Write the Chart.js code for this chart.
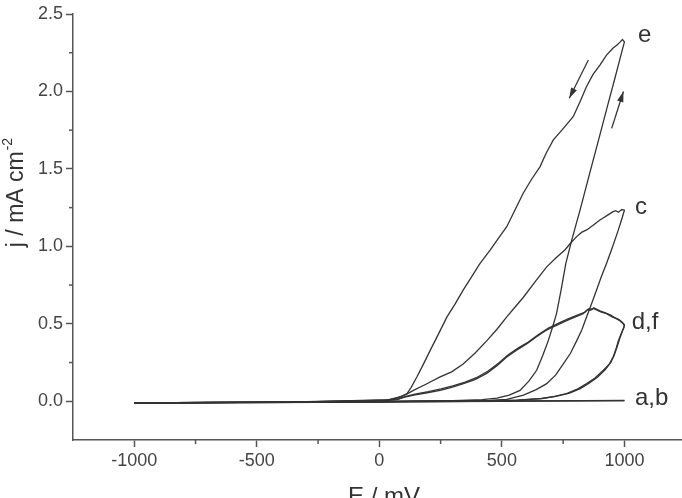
<!DOCTYPE html>
<html>
<head>
<meta charset="utf-8">
<script src="https://cdn.jsdelivr.net/npm/chart.js@4.4.0/dist/chart.umd.min.js"></script>
<style>
  html, body { margin: 0; padding: 0; background: #fff; }
</style>
</head>
<body>
<canvas id="grafico" width="682" height="498"></canvas>
<script>
// tick labels
const xTicks = [-1000, -500, 0, 500, 1000];
const yTicks = [0.0, 0.5, 1.0, 1.5, 2.0, 2.5];

// curves: potential E (mV) and current density j (mA cm-2), forward then reverse scan
const aE = [-1000, -500, 0, 500, 1000, 500, 0, -500, -1000];
const aJ = [-0.010, -0.007, -0.004, 0.000, 0.004, 0.002, -0.004, -0.008, -0.012];

const bE = [-1000, -500, 0, 500, 1000, 500, 0, -500, -1000];
const bJ = [-0.011, -0.008, -0.003, 0.001, 0.005, 0.001, -0.005, -0.009, -0.013];

const cE = [-1000, -500, 0, 300, 450, 520, 588, 640, 683, 720, 750, 780, 805, 826, 846, 866, 886, 905, 927, 950, 975, 990, 1000,
            990, 975, 965, 954, 930, 915, 900, 875, 846, 825, 805, 780, 757, 720, 683, 640, 587, 555, 520, 480, 438, 390, 342, 295, 248, 190, 139, 110, 86, 40, -300, -700, -1000];
const cJ = [-0.010, -0.006, -0.002, 0.002, 0.006, 0.012, 0.040, 0.075, 0.114, 0.170, 0.240, 0.310, 0.390, 0.460, 0.545, 0.630, 0.717, 0.800, 0.890, 0.990, 1.105, 1.180, 1.234,
            1.238, 1.220, 1.230, 1.224, 1.200, 1.185, 1.170, 1.140, 1.106, 1.090, 1.063, 1.020, 0.977, 0.925, 0.868, 0.780, 0.670, 0.610, 0.545, 0.465, 0.390, 0.310, 0.240, 0.190, 0.157, 0.110, 0.070, 0.045, 0.030, 0.010, -0.004, -0.008, -0.011];

const dE = [-1000, -500, 0, 400, 560, 656, 710, 764, 810, 846, 880, 914, 938, 954, 966, 975, 988, 996, 1000,
            992, 981, 965, 950, 927, 906, 886, 873, 862, 850, 832, 800, 764, 725, 683, 640, 601, 560, 520, 480, 438, 390, 343, 295, 248, 195, 140, 100, 72, 0, -500, -1000];
const dJ = [-0.010, -0.006, -0.002, 0.003, 0.008, 0.017, 0.030, 0.050, 0.080, 0.114, 0.150, 0.200, 0.240, 0.286, 0.340, 0.390, 0.440, 0.470, 0.490,
            0.505, 0.520, 0.535, 0.545, 0.566, 0.575, 0.590, 0.600, 0.588, 0.592, 0.566, 0.545, 0.520, 0.492, 0.460, 0.415, 0.370, 0.330, 0.286, 0.230, 0.180, 0.140, 0.114, 0.090, 0.070, 0.055, 0.040, 0.025, 0.010, 0.002, -0.006, -0.011];

const eE = [-1000, -600, -200, 100, 300, 420, 480, 530, 574, 610, 642, 668, 689, 705, 723, 742, 761, 785, 820, 858, 880, 900, 930, 962, 985, 1000,
            992, 983, 970, 954, 927, 900, 872, 845, 818, 791, 750, 710, 680, 656, 620, 587, 555, 520, 485, 452, 411, 375, 342, 310, 276, 240, 208, 180, 153, 130, 113, 90, 72, 30, -300, -700, -1000];
const eJ = [-0.010, -0.007, -0.004, 0.000, 0.004, 0.010, 0.020, 0.040, 0.070, 0.130, 0.200, 0.300, 0.390, 0.470, 0.566, 0.720, 0.890, 1.040, 1.240, 1.470, 1.600, 1.720, 1.900, 2.090, 2.230, 2.320,
            2.335, 2.320, 2.300, 2.280, 2.235, 2.170, 2.110, 2.030, 1.930, 1.837, 1.760, 1.687, 1.600, 1.515, 1.430, 1.343, 1.240, 1.127, 1.050, 0.975, 0.890, 0.800, 0.717, 0.630, 0.545, 0.430, 0.330, 0.240, 0.157, 0.090, 0.050, 0.030, 0.020, 0.008, -0.004, -0.008, -0.012];

const fE = [-1000, -500, 0, 400, 570, 665, 720, 776, 820, 856, 890, 922, 944, 958, 970, 980, 991, 998, 1000,
            990, 978, 960, 944, 920, 900, 884, 876, 868, 855, 840, 808, 770, 730, 690, 648, 608, 566, 526, 486, 444, 396, 350, 300, 252, 200, 145, 105, 76, 0, -500, -1000];
const fJ = [-0.010, -0.006, -0.002, 0.003, 0.008, 0.018, 0.032, 0.052, 0.082, 0.116, 0.155, 0.205, 0.250, 0.296, 0.350, 0.400, 0.450, 0.478, 0.495,
            0.512, 0.528, 0.540, 0.556, 0.572, 0.584, 0.596, 0.603, 0.594, 0.598, 0.576, 0.556, 0.532, 0.503, 0.472, 0.430, 0.382, 0.343, 0.300, 0.246, 0.195, 0.152, 0.124, 0.100, 0.080, 0.062, 0.046, 0.030, 0.014, 0.003, -0.005, -0.010];

const curves = [[aE, aJ], [bE, bJ], [cE, cJ], [dE, dJ], [eE, eJ], [fE, fJ]];

const FONT = "'Liberation Sans', Arial, sans-serif";
const INK = '#333';
const AXIS = '#555';

function toPoints(E, J) {
    return E.map((x, i) => ({ x: x, y: J[i] }));
}

// minor ticks, axis titles, curve labels and scan arrows
const extras = {
    id: 'extras',
    afterDraw(chart) {
        const c = chart.ctx;
        const xs = chart.scales.x;
        const ys = chart.scales.y;
        const area = chart.chartArea;

        c.save();
        c.strokeStyle = AXIS;
        c.lineWidth = 1.5;
        // minor ticks halfway between labelled ones
        for (let i = 1; i < xTicks.length; i++) {
            const px = xs.getPixelForValue((xTicks[i - 1] + xTicks[i]) / 2);
            c.beginPath(); c.moveTo(px, area.bottom); c.lineTo(px, area.bottom + 4); c.stroke();
        }
        for (let i = 1; i < yTicks.length; i++) {
            const py = ys.getPixelForValue((yTicks[i - 1] + yTicks[i]) / 2);
            c.beginPath(); c.moveTo(area.left, py); c.lineTo(area.left - 4, py); c.stroke();
        }

        c.fillStyle = INK;
        // x title
        c.font = '24px ' + FONT;
        c.textAlign = 'center';
        c.textBaseline = 'alphabetic';
        c.fillText('E / mV', 384, 504);

        // y title with superscript
        c.save();
        c.translate(23, 193);
        c.rotate(-Math.PI / 2);
        c.font = '23px ' + FONT;
        const main = 'j / mA cm';
        const w1 = c.measureText(main).width;
        c.font = '14px ' + FONT;
        const w2 = c.measureText('-2').width;
        const x0 = -(w1 + w2) / 2;
        c.font = '23px ' + FONT;
        c.textAlign = 'left';
        c.fillText(main, x0, 0);
        c.font = '14px ' + FONT;
        c.fillText('-2', x0 + w1 + 1, -11);
        c.restore();

        // curve labels
        c.font = '24px ' + FONT;
        c.textAlign = 'left';
        c.textBaseline = 'middle';
        const lab = (t, E, j) => c.fillText(t, xs.getPixelForValue(E), ys.getPixelForValue(j));
        lab('e', 1055, 2.36);
        lab('c', 1043, 1.25);
        lab('d,f', 1030, 0.51);
        lab('a,b', 1043, 0.02);

        // scan direction arrows
        const arrow = (E1, j1, E2, j2) => {
            const x1 = xs.getPixelForValue(E1), y1 = ys.getPixelForValue(j1);
            const x2 = xs.getPixelForValue(E2), y2 = ys.getPixelForValue(j2);
            const ang = Math.atan2(y2 - y1, x2 - x1);
            c.strokeStyle = INK;
            c.lineWidth = 1.3;
            c.beginPath(); c.moveTo(x1, y1); c.lineTo(x2, y2); c.stroke();
            c.beginPath();
            c.moveTo(x2, y2);
            c.lineTo(x2 - 11 * Math.cos(ang - 0.3), y2 - 11 * Math.sin(ang - 0.3));
            c.lineTo(x2 - 11 * Math.cos(ang + 0.3), y2 - 11 * Math.sin(ang + 0.3));
            c.closePath();
            c.fill();
        };
        arrow(853, 2.203, 775, 1.956);
        arrow(948, 1.762, 996, 2.0);
        c.restore();
    }
};

const ctx = document.getElementById('grafico').getContext('2d');
const grafico = new Chart(ctx, {
    type: 'scatter',
    data: {
        datasets: curves.map(([E, J]) => ({
            data: toPoints(E, J),
            showLine: true,
            borderColor: INK,
            borderWidth: 1.3,
            pointRadius: 0,
            tension: 0,
            fill: false
        }))
    },
    options: {
        responsive: false,
        animation: false,
        devicePixelRatio: 1,
        layout: { padding: { top: 14, right: 0, left: 0, bottom: 0 } },
        plugins: {
            legend: { display: false },
            tooltip: { enabled: false }
        },
        scales: {
            x: {
                type: 'linear',
                min: -1250,
                max: 1235,
                afterBuildTicks: (s) => { s.ticks = xTicks.map(v => ({ value: v })); },
                afterFit: (s) => { s.height = 58; },
                border: { display: true, color: AXIS, width: 1.5 },
                grid: { display: true, drawOnChartArea: false, drawTicks: true, tickLength: 7, tickColor: AXIS, tickWidth: 1.5 },
                ticks: {
                    padding: 3,
                    color: '#444',
                    font: { family: FONT, size: 18 },
                    maxRotation: 0,
                    callback: (v) => String(v)
                }
            },
            y: {
                type: 'linear',
                min: -0.25,
                max: 2.5,
                afterBuildTicks: (s) => { s.ticks = yTicks.map(v => ({ value: v })); },
                afterFit: (s) => { s.width = 73; },
                border: { display: true, color: AXIS, width: 1.5 },
                grid: { display: true, drawOnChartArea: false, drawTicks: true, tickLength: 7, tickColor: AXIS, tickWidth: 1.5 },
                ticks: {
                    padding: 3,
                    color: '#444',
                    font: { family: FONT, size: 18 },
                    callback: (v) => Number(v).toFixed(1)
                }
            }
        }
    },
    plugins: [extras]
});
</script>
</body>
</html>
